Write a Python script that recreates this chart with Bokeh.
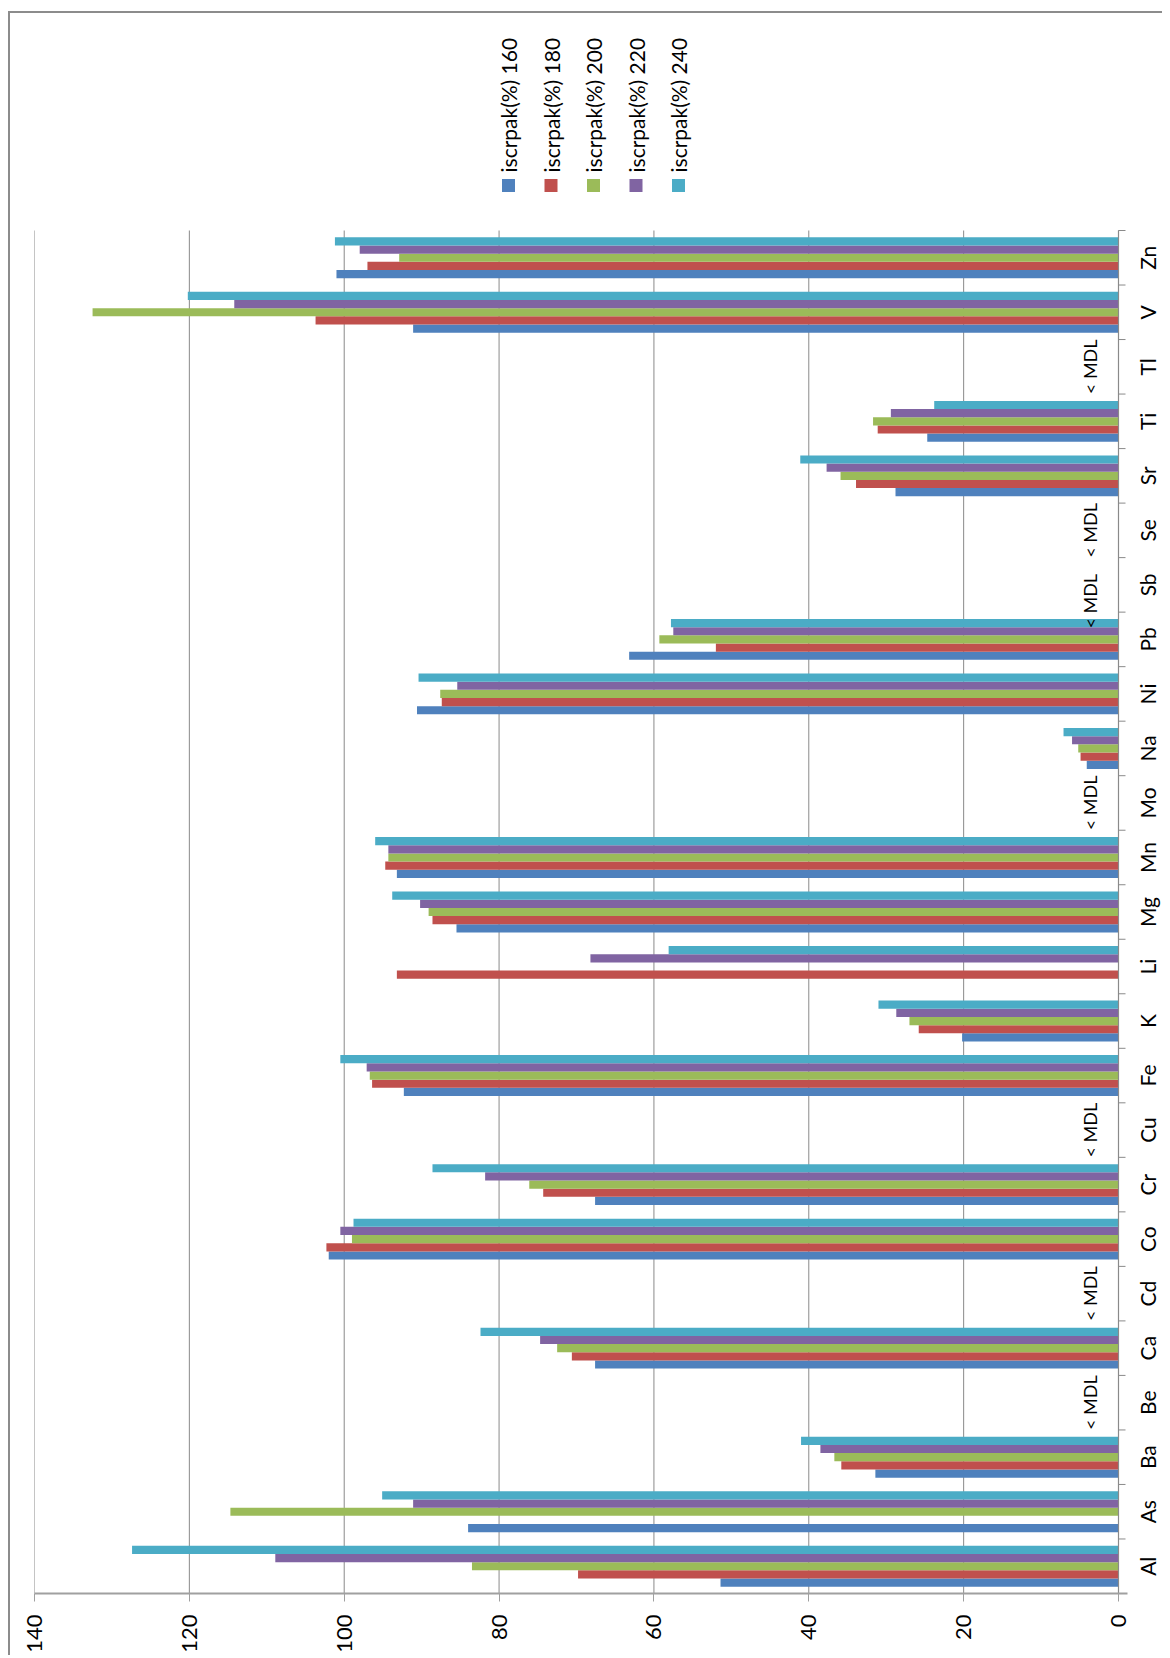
import math
from bokeh.plotting import figure
from bokeh.models import Range1d, FixedTicker
from bokeh.embed import file_html
from bokeh.resources import INLINE
from bokeh.core.properties import value

# ---------------- data ----------------
elements = ["Al", "As", "Ba", "Be", "Ca", "Cd", "Co", "Cr", "Cu", "Fe", "K", "Li", "Mg",
            "Mn", "Mo", "Na", "Ni", "Pb", "Sb", "Se", "Sr", "Ti", "Tl", "V", "Zn"]
series_names = ["iscrpak(%) 160", "iscrpak(%) 180", "iscrpak(%) 200",
                "iscrpak(%) 220", "iscrpak(%) 240"]
N = None
s160 = [51.4, 84.0, 31.4, N, 67.6, N, 102.0, 67.6, N, 92.3, 20.2, N, 85.5,
        93.2, N, 4.1, 90.6, 63.2, N, N, 28.8, 24.7, N, 91.1, 101.0]
s180 = [69.8, N, 35.8, N, 70.6, N, 102.3, 74.3, N, 96.4, 25.8, 93.2, 88.6,
        94.7, N, 4.9, 87.4, 52.0, N, N, 33.9, 31.1, N, 103.7, 97.0]
s200 = [83.5, 114.7, 36.7, N, 72.5, N, 99.0, 76.1, N, 96.7, 27.0, N, 89.1,
        94.3, N, 5.2, 87.6, 59.3, N, N, 35.9, 31.7, N, 132.5, 92.9]
s220 = [108.9, 91.1, 38.5, N, 74.7, N, 100.5, 81.8, N, 97.1, 28.7, 68.2, 90.2,
        94.3, N, 6.0, 85.4, 57.5, N, N, 37.7, 29.4, N, 114.2, 98.0]
s240 = [127.4, 95.1, 41.0, N, 82.4, N, 98.8, 88.6, N, 100.5, 31.0, 58.1, 93.8,
        96.0, N, 7.1, 90.4, 57.8, N, N, 41.1, 23.8, N, 120.2, 101.2]
mdl_elements = ["Be", "Cd", "Cu", "Mo", "Sb", "Se", "Tl"]
mdl_text = "< MDL"
value_ticks = [0, 20, 40, 60, 80, 100, 120, 140]

series = [s160, s180, s200, s220, s240]
colors = ["#4F81BD", "#C0504D", "#9BBB59", "#8064A2", "#4BACC6"]

# ---------------- layout ----------------
FONT = "Lato"
PLOT_W = 1084                    # px from value 140 to value 0
RIGHT_W = 44                     # px right of value 0 (category labels)
FRAME_H = 1571
NCAT = len(elements)
PX_X = PLOT_W / 140.0            # px per value unit
PX_Y = 1363.0 / NCAT             # px per category band
Y_TOP = NCAT + (1593 - 22 - 1363) / PX_Y
X_RIGHT = -RIGHT_W / PX_X
BAR_H = 0.15
GRID = "#8a8a8a"

p = figure(frame_width=PLOT_W + RIGHT_W, frame_height=FRAME_H,
           x_range=Range1d(140, X_RIGHT), y_range=Range1d(0, Y_TOP),
           y_axis_location=None, output_backend="svg", toolbar_location=None,
           min_border_left=24, min_border_top=9, min_border_right=0,
           min_border_bottom=55, background_fill_color="white",
           border_fill_color="white")
p.outline_line_color = None
p.xgrid.visible = False
p.ygrid.visible = False
p.styles = {"border-left": "2px solid #8c8c8c", "border-top": "2px solid #8c8c8c",
            "margin-left": "8px", "margin-top": "11px"}

# gridlines (value) over the category area
p.segment(x0=value_ticks, y0=0, x1=value_ticks, y1=NCAT,
          line_color=GRID, line_width=1)

# bars
for k, (vals, col) in enumerate(zip(series, colors)):
    ys = [i + 0.5 + (k - 2) * BAR_H for i, v in enumerate(vals) if v is not None]
    rs = [v for v in vals if v is not None]
    p.hbar(y=ys, left=0, right=rs, height=BAR_H, fill_color=col,
           line_color=None)

# category axis: line at 0, ticks at band boundaries, labels centred in bands
p.segment(x0=[0], y0=[0], x1=[0], y1=[NCAT], line_color=GRID, line_width=1.2)
bounds = list(range(NCAT + 1))
p.segment(x0=[0] * len(bounds), y0=bounds, x1=[-7 / PX_X] * len(bounds), y1=bounds,
          line_color=GRID, line_width=1)
p.text(x=[-29 / PX_X] * NCAT, y=[i + 0.5 for i in range(NCAT)], text=elements,
       angle=math.pi / 2, text_align="center", text_baseline="middle",
       text_font=value(FONT), text_font_size="21px", text_color="#000000")

# "< MDL" notes
mdl_y = []
for e in mdl_elements:
    i = elements.index(e)
    mdl_y.append(i + 0.5 - (0.3 if e == "Sb" else 0.0))
p.text(x=[29 / PX_X] * len(mdl_y), y=mdl_y, text=[mdl_text] * len(mdl_y),
       angle=math.pi / 2, text_align="center", text_baseline="middle",
       text_font=value(FONT), text_font_size="18px", text_color="#000000")

# legend (rotated)
leg_x = [(1118 - (508 + 42.5 * k)) / PX_X for k in range(5)]
sq_y = (1593 - 185) / PX_Y
txt_y = (1593 - 172) / PX_Y
p.scatter(x=leg_x, y=[sq_y] * 5, marker="square", size=13, fill_color=colors,
          line_color=None)
p.text(x=leg_x, y=[txt_y] * 5, text=series_names, angle=math.pi / 2,
       text_align="left", text_baseline="middle", text_font=value(FONT),
       text_font_size="21px", text_color="#000000")

# bottom (value) axis
xa = p.xaxis[0]
xa.ticker = FixedTicker(ticks=value_ticks)
xa.bounds = (-9 / PX_X, 140)
xa.major_label_orientation = math.pi / 2
xa.axis_line_color = "#a0a0a0"
xa.axis_line_width = 2
xa.major_tick_line_color = "#a0a0a0"
xa.major_tick_in = 0
xa.major_tick_out = 8
xa.minor_tick_line_color = None
xa.major_label_standoff = 13
xa.major_label_text_font = FONT
xa.major_label_text_font_size = "22px"
xa.major_label_text_color = "#000000"

open("out.html", "w").write(file_html(p, INLINE))
